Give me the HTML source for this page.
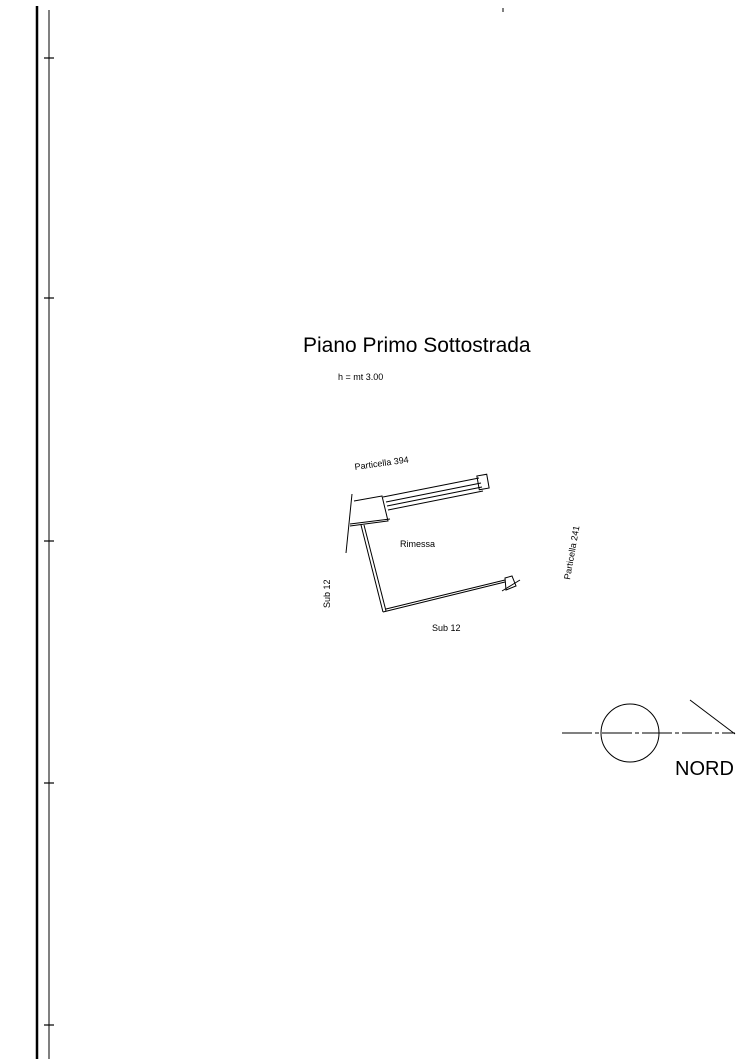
<!DOCTYPE html>
<html><head><meta charset="utf-8"><style>
html,body{margin:0;padding:0;background:#fff;width:746px;height:1059px;overflow:hidden}
svg{display:block}
text{font-family:"Liberation Sans",sans-serif;fill:#000}
</style></head><body>
<svg width="746" height="1059" viewBox="0 0 746 1059">
<line x1="37" y1="6" x2="37" y2="1059" stroke="#000" stroke-width="2.5"/>
<line x1="49" y1="10" x2="49" y2="1059" stroke="#000" stroke-width="1"/>
<g stroke="#000" stroke-width="1.2">
<line x1="44" y1="58" x2="54" y2="58"/>
<line x1="44" y1="298" x2="54" y2="298"/>
<line x1="44" y1="541" x2="54" y2="541"/>
<line x1="44" y1="783" x2="54" y2="783"/>
<line x1="44" y1="1025" x2="54" y2="1025"/>
</g>
<line x1="503" y1="8" x2="503" y2="12" stroke="#000"/>
<text x="303" y="352" font-size="21">Piano Primo Sottostrada</text>
<text x="338" y="380" font-size="9">h = mt 3.00</text>
<text x="355" y="470" font-size="9" transform="rotate(-8 355 470)">Particella 394</text>
<text x="400" y="547" font-size="9">Rimessa</text>
<text x="570" y="580" font-size="9" transform="rotate(-80 570 580)">Particella 241</text>
<text x="330" y="608" font-size="9" transform="rotate(-90 330 608)">Sub 12</text>
<text x="432" y="631" font-size="9">Sub 12</text>
<g stroke="#000" stroke-width="1" fill="none">
<line x1="352" y1="494" x2="346" y2="553"/>
<polyline points="354,501 382,496 388,521 350,526"/>
<line x1="350" y1="524" x2="390" y2="519"/>
<line x1="383" y1="497" x2="479" y2="478"/>
<line x1="386" y1="502" x2="481" y2="483"/>
<line x1="387" y1="506" x2="482" y2="487"/>
<line x1="388" y1="510" x2="483" y2="491"/>
<rect x="478" y="475" width="10" height="14" transform="rotate(-10 483 482)"/>
<line x1="361" y1="525" x2="383" y2="612"/>
<line x1="364" y1="525" x2="386" y2="611"/>
<line x1="383" y1="612" x2="505" y2="582"/>
<line x1="386" y1="609" x2="505" y2="580"/>
<path d="M505,578 L512,576 L516,586 L506,590 Z"/>
<line x1="502" y1="591" x2="520" y2="580"/>
<circle cx="630" cy="733" r="29"/>
<line x1="562" y1="733" x2="735" y2="733" stroke-dasharray="30,3,4,3"/>
<line x1="690" y1="700" x2="735" y2="734"/>
</g>
<text x="675" y="775" font-size="20">NORD</text>
</svg>
</body></html>
